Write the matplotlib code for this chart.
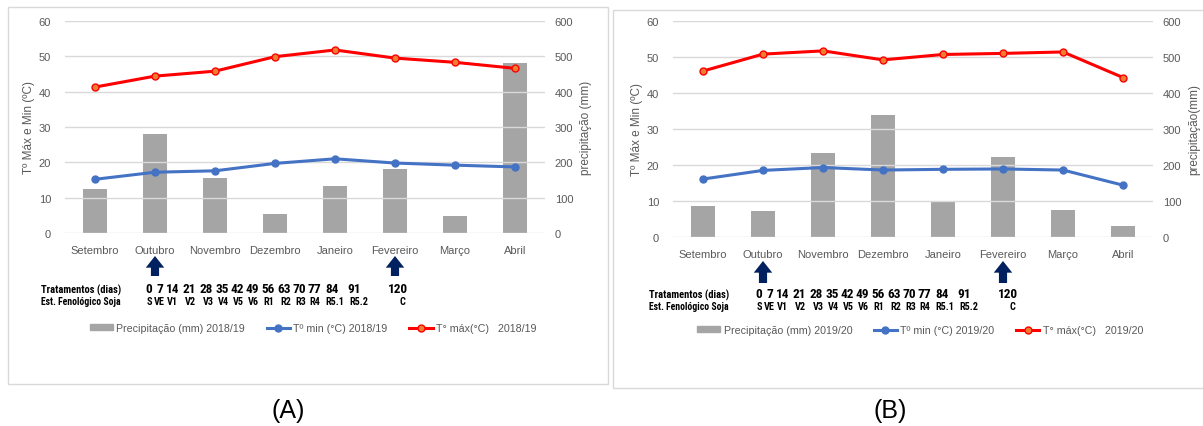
import matplotlib
matplotlib.use("Agg")
import matplotlib.pyplot as plt
from matplotlib.patches import Rectangle, Patch, FancyArrowPatch
from matplotlib.lines import Line2D
from matplotlib import font_manager

plt.rcParams['font.family'] = ['Liberation Sans', 'DejaVu Sans']
names = {f.name for f in font_manager.fontManager.ttflist}
NARROW = ['Liberation Sans', 'DejaVu Sans']
nfs = 0.8
for cand in ['Liberation Sans Narrow', 'DejaVu Sans Condensed', 'Roboto Condensed']:
    if cand in names:
        NARROW = [cand, 'Liberation Sans', 'DejaVu Sans']
        nfs = 0.95
        break

months = ["Setembro", "Outubro", "Novembro", "Dezembro", "Janeiro", "Fevereiro", "Março", "Abril"]

# Panel A (2018/19)
precip_a = [125, 280, 155, 55, 133, 180, 48, 480]
tmin_a = [15.2, 17.2, 17.6, 19.7, 21.0, 19.8, 19.2, 18.7]
tmax_a = [41.3, 44.4, 45.8, 49.9, 51.8, 49.5, 48.3, 46.6]

# Panel B (2019/20)
precip_b = [87, 72, 233, 338, 101, 223, 75, 31]
tmin_b = [16.1, 18.5, 19.3, 18.6, 18.8, 18.9, 18.6, 14.4]
tmax_b = [46.1, 50.8, 51.7, 49.2, 50.7, 51.0, 51.4, 44.3]

treat_days = ["0", "7", "14", "21", "28", "35", "42", "49", "56", "63", "70", "77", "84", "91", "120"]
stages = ["S", "VE", "V1", "V2", "V3", "V4", "V5", "V6", "R1", "R2", "R3", "R4", "R5.1", "R5.2", "C"]
# horizontal pixel offsets (layout) relative to first item
treat_off = [0, 11, 24, 40, 57, 73, 88, 103, 119, 135, 150, 165, 183, 205, 249]
stage_off = [0, 10, 23, 41, 59, 74, 89, 104, 120, 137, 152, 166, 186, 210, 253]

W, H = 1203, 427
fig = plt.figure(figsize=(W / 100, H / 100), dpi=100)

def fx(px):
    return px / W

def fy(py):
    return 1 - py / H

GRID = '#D9D9D9'
TICK = '#595959'
BAR = '#A5A5A5'
BLUE = '#4472C4'
RED = '#FF0000'
ORANGE = '#ED7D31'
NAVY = '#002060'

def panel(left_px, top_px, bottom_px, precip, tmin, tmax, season, rlabel,
          box, month_y, arrow_top, arrow_bot, row1_y, row2_y, label_x, first_x,
          legend_y, legend_cx, letter, letter_x):
    bx0, by0, bx1, by1 = box
    fig.patches.append(Rectangle((fx(bx0), fy(by1)), fx(bx1 - bx0), (by1 - by0) / H,
                                 transform=fig.transFigure, fill=False,
                                 edgecolor=GRID, lw=1.0, zorder=0))
    ax = fig.add_axes([fx(left_px), fy(bottom_px), fx(480), (bottom_px - top_px) / H])
    ax2 = ax.twinx()
    x = list(range(len(months)))
    ax2.bar(x, precip, width=0.39, color=BAR, zorder=1)
    ax2.set_ylim(0, 600)
    ax2.set_yticks(range(0, 601, 100))
    ax.set_ylim(0, 60)
    ax.set_yticks(range(0, 61, 10))
    ax.set_xlim(-0.5, len(months) - 0.5)
    ax.grid(axis='y', color=GRID, lw=1.0)
    ax.set_axisbelow(True)
    ax.set_zorder(ax2.get_zorder() + 1)
    ax.patch.set_visible(False)
    ax.plot(x, tmin, color=BLUE, lw=2.2, marker='o', ms=5, mfc=BLUE, mec=BLUE, zorder=3)
    ax.plot(x, tmax, color=RED, lw=2.2, marker='o', ms=5, mfc=ORANGE, mec=RED, mew=1.0, zorder=3)
    for a in (ax, ax2):
        for s in a.spines.values():
            s.set_visible(False)
        a.tick_params(length=0, labelsize=8, colors=TICK)
    ax.set_xticks(x)
    ax.set_xticklabels(months)
    ax.tick_params(axis='x', pad=(month_y - bottom_px) - 6)
    ax.tick_params(axis='y', pad=10)
    ax2.tick_params(axis='y', pad=7)
    ax.set_ylabel("Tº Máx e Min (ºC)", fontsize=8.5, color=TICK, labelpad=3)
    ax2.set_ylabel(rlabel, fontsize=8.5, color=TICK, labelpad=5)

    for i in (1, 5):
        xp = ax.transData.transform((i, 0))[0]
        fig.add_artist(FancyArrowPatch(
            (fx(xp), fy(arrow_bot)), (fx(xp), fy(arrow_top)),
            transform=fig.transFigure,
            arrowstyle='simple,head_width=0.95,head_length=0.6,tail_width=0.42',
            mutation_scale=14, color=NAVY, lw=0, shrinkA=0, shrinkB=0))

    fig.text(fx(label_x), fy(row1_y), "Tratamentos (dias)", ha='center', va='center',
             fontsize=8 * nfs, fontweight='bold', color='black', family=NARROW)
    fig.text(fx(label_x), fy(row2_y), "Est. Fenológico Soja", ha='center', va='center',
             fontsize=7.4 * nfs, fontweight='bold', color='black', family=NARROW)
    for t, o in zip(treat_days, treat_off):
        fig.text(fx(first_x + o), fy(row1_y), t, ha='center', va='center',
                 fontsize=10 * nfs, fontweight='bold', color='black', family=NARROW)
    for s, o in zip(stages, stage_off):
        fig.text(fx(first_x + o), fy(row2_y), s, ha='center', va='center',
                 fontsize=7.8 * nfs, fontweight='bold', color='black', family=NARROW)

    handles = [Patch(color=BAR),
               Line2D([], [], color=BLUE, lw=2.2, marker='o', ms=5, mfc=BLUE, mec=BLUE),
               Line2D([], [], color=RED, lw=2.2, marker='o', ms=5, mfc=ORANGE, mec=RED)]
    labels = [f"Precipitação (mm) {season}", f"Tº min (°C) {season}", f"T° máx(°C)   {season}"]
    leg = fig.legend(handles, labels, loc='center', bbox_to_anchor=(fx(legend_cx), fy(legend_y)),
                     ncol=3, frameon=False, fontsize=7.7, handlelength=2.2, handletextpad=0.3,
                     columnspacing=2.0, handleheight=0.5)
    for t in leg.get_texts():
        t.set_color(TICK)
    fig.text(fx(letter_x), fy(411), letter, ha='center', va='center', fontsize=18, color='black')
    return ax

panel(65, 22, 234, precip_a, tmin_a, tmax_a, "2018/19", "precipitação (mm)",
      (8, 8, 608, 385), 249, 257, 277, 290, 302, 81, 149, 329, 313, "(A)", 288)
panel(673, 22, 238, precip_b, tmin_b, tmax_b, "2019/20", "precipitação(mm)",
      (613, 11, 1210, 389), 253, 262, 284, 295, 307, 689, 759, 331, 920, "(B)", 890)

fig.savefig("out.png", dpi=100)
